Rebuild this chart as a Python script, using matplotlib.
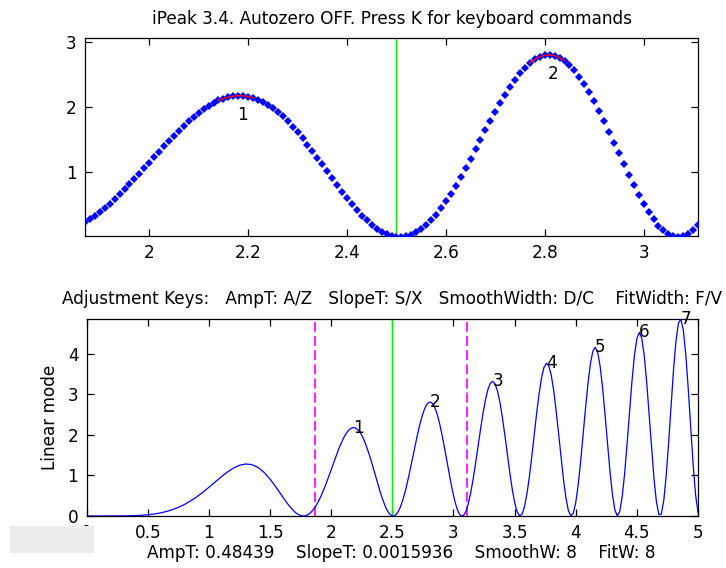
import numpy as np
import matplotlib
matplotlib.use("Agg")
import matplotlib.pyplot as plt
from matplotlib.patches import Rectangle

# ---------------- data ----------------
x_values = [
    0.00, 0.05, 0.10, 0.15, 0.20, 0.25, 0.30, 0.35, 0.40, 0.45,
    0.50, 0.55, 0.60, 0.65, 0.70, 0.75, 0.80, 0.85, 0.90, 0.95,
    1.00, 1.05, 1.10, 1.15, 1.20, 1.25, 1.30, 1.35, 1.40, 1.45,
    1.50, 1.55, 1.60, 1.65, 1.70, 1.725, 1.75, 1.775, 1.80, 1.825,
    1.85, 1.86,
    1.87, 1.88, 1.89, 1.90, 1.91, 1.92, 1.93, 1.94, 1.95, 1.96,
    1.97, 1.98, 1.99, 2.00, 2.01, 2.02, 2.03, 2.04, 2.05, 2.06,
    2.07, 2.08, 2.09, 2.10, 2.11, 2.12, 2.13, 2.14, 2.15, 2.16,
    2.17, 2.18, 2.19, 2.20, 2.21, 2.22, 2.23, 2.24, 2.25, 2.26,
    2.27, 2.28, 2.29, 2.30, 2.31, 2.32, 2.33, 2.34, 2.35, 2.36,
    2.37, 2.38, 2.39, 2.40, 2.41, 2.42, 2.43, 2.44, 2.45, 2.46,
    2.47, 2.48, 2.49, 2.50, 2.51, 2.52, 2.53, 2.54, 2.55, 2.56,
    2.57, 2.58, 2.59, 2.60, 2.61, 2.62, 2.63, 2.64, 2.65, 2.66,
    2.67, 2.68, 2.69, 2.70, 2.71, 2.72, 2.73, 2.74, 2.75, 2.76,
    2.77, 2.78, 2.79, 2.80, 2.81, 2.82, 2.83, 2.84, 2.85, 2.86,
    2.87, 2.88, 2.89, 2.90, 2.91, 2.92, 2.93, 2.94, 2.95, 2.96,
    2.97, 2.98, 2.99, 3.00, 3.01, 3.02, 3.03, 3.04, 3.05, 3.06,
    3.07, 3.08, 3.09, 3.10, 3.11,
    3.12, 3.14, 3.16, 3.18, 3.20, 3.22, 3.24, 3.26, 3.28, 3.30,
    3.32, 3.34, 3.36, 3.38, 3.40, 3.42, 3.44, 3.46, 3.48, 3.50,
    3.52, 3.54, 3.56, 3.58, 3.60, 3.62, 3.64, 3.66, 3.68, 3.70,
    3.72, 3.74, 3.76, 3.78, 3.80, 3.82, 3.84, 3.86, 3.88, 3.90,
    3.92, 3.94, 3.96, 3.98, 4.00, 4.02, 4.04, 4.06, 4.08, 4.10,
    4.12, 4.14, 4.16, 4.18, 4.20, 4.22, 4.24, 4.26, 4.28, 4.30,
    4.32, 4.34, 4.36, 4.38, 4.40, 4.42, 4.44, 4.46, 4.48, 4.50,
    4.52, 4.54, 4.56, 4.58, 4.60, 4.62, 4.64, 4.66, 4.68, 4.70,
    4.72, 4.74, 4.76, 4.78, 4.80, 4.82, 4.84, 4.86, 4.88, 4.90,
    4.92, 4.94, 4.96, 4.98, 5.00,
]
y_values = [
    0.000, 0.000, 0.000, 0.000, 0.000, 0.001, 0.002, 0.005, 0.010, 0.018,
    0.031, 0.049, 0.075, 0.109, 0.155, 0.213, 0.285, 0.372, 0.472, 0.585,
    0.708, 0.836, 0.963, 1.081, 1.180, 1.250, 1.281, 1.266, 1.198, 1.077,
    0.908, 0.704, 0.483, 0.273, 0.105, 0.047, 0.011, 0.000, 0.017, 0.064,
    0.142, 0.182,
    0.226, 0.275, 0.329, 0.387, 0.449, 0.516, 0.586, 0.658, 0.735, 0.813,
    0.894, 0.977, 1.061, 1.146, 1.230, 1.315, 1.399, 1.481, 1.562, 1.639,
    1.713, 1.784, 1.851, 1.914, 1.970, 2.021, 2.065, 2.103, 2.133, 2.155,
    2.170, 2.177, 2.175, 2.164, 2.145, 2.117, 2.081, 2.037, 1.985, 1.925,
    1.857, 1.782, 1.700, 1.613, 1.520, 1.424, 1.325, 1.221, 1.117, 1.011,
    0.906, 0.801, 0.699, 0.599, 0.504, 0.415, 0.331, 0.255, 0.188, 0.130,
    0.081, 0.044, 0.017, 0.003, 0.001, 0.011, 0.035, 0.071, 0.121, 0.183,
    0.257, 0.343, 0.440, 0.548, 0.665, 0.790, 0.922, 1.060, 1.203, 1.348,
    1.496, 1.642, 1.786, 1.929, 2.064, 2.193, 2.314, 2.423, 2.523, 2.609,
    2.681, 2.737, 2.777, 2.799, 2.806, 2.793, 2.761, 2.714, 2.648, 2.567,
    2.469, 2.356, 2.230, 2.091, 1.942, 1.785, 1.622, 1.455, 1.289, 1.123,
    0.959, 0.799, 0.650, 0.509, 0.383, 0.271, 0.177, 0.101, 0.045, 0.011,
    0.000, 0.012, 0.047, 0.105, 0.186,
    0.290, 0.557, 0.894, 1.281, 1.695, 2.110, 2.502, 2.837, 3.099, 3.263,
    3.318, 3.255, 3.078, 2.796, 2.427, 1.998, 1.540, 1.086, 0.673, 0.337,
    0.108, 0.004, 0.041, 0.219, 0.530, 0.951, 1.450, 1.990, 2.524, 3.009,
    3.398, 3.657, 3.760, 3.694, 3.462, 3.082, 2.586, 2.019, 1.438, 0.893,
    0.440, 0.132, 0.003, 0.069, 0.332, 0.768, 1.339, 1.991, 2.654, 3.262,
    3.751, 4.060, 4.157, 4.025, 3.676, 3.143, 2.485, 1.777, 1.098, 0.532,
    0.150, 0.001, 0.111, 0.473, 1.050, 1.777, 2.567, 3.323, 3.954, 4.370,
    4.520, 4.376, 3.954, 3.304, 2.509, 1.680, 0.921, 0.345, 0.037, 0.046,
    0.379, 0.997, 1.819, 2.732, 3.606, 4.315, 4.750, 4.844, 4.575, 3.981,
    3.144, 2.193, 1.272, 0.530, 0.088,
]

peak_numbers = [1, 2, 3, 4, 5, 6, 7]
peak_x = [2.177, 2.806, 3.318, 3.760, 4.157, 4.520, 4.855]
peak_y = [2.177, 2.806, 3.318, 3.760, 4.157, 4.520, 4.855]

window_center = 2.5
window_lo = 1.87
window_hi = 3.11

top_title = "iPeak 3.4. Autozero OFF. Press K for keyboard commands"
bottom_title = "Adjustment Keys:   AmpT: A/Z   SlopeT: S/X   SmoothWidth: D/C    FitWidth: F/V"
bottom_xlabel = "AmpT: 0.48439    SlopeT: 0.0015936    SmoothW: 8    FitW: 8"
bottom_ylabel = "Linear mode"

top_xticks = [2, 2.2, 2.4, 2.6, 2.8, 3]
top_xticklabels = ["2", "2.2", "2.4", "2.6", "2.8", "3"]
top_yticks = [1, 2, 3]
top_yticklabels = ["1", "2", "3"]
bottom_xticks = [0, 0.5, 1, 1.5, 2, 2.5, 3, 3.5, 4, 4.5, 5]
bottom_xticklabels = ["0", "0.5", "1", "1.5", "2", "2.5", "3", "3.5", "4", "4.5", "5"]
bottom_yticks = [0, 1, 2, 3, 4]
bottom_yticklabels = ["0", "1", "2", "3", "4"]

# ---------------- styling ----------------
plt.rcParams['font.family'] = ['DejaVu Sans']
FS = 12.2
BLUE = (0, 0, 1)
GREEN = (0, 0.95, 0)
MAGENTA = (1, 0, 1)

x = np.array(x_values)
y = np.array(y_values)

fig = plt.figure(figsize=(7.26, 5.68), dpi=100)
fig.patch.set_facecolor('white')

W, H = 726.0, 568.0
ax1 = fig.add_axes([85 / W, 1 - 235.7 / H, (698 - 85) / W, (235.7 - 37.7) / H])
ax2 = fig.add_axes([86.7 / W, 1 - 516 / H, (698 - 86.7) / W, (516 - 319.3) / H])


def style(ax):
    for s in ax.spines.values():
        s.set_linewidth(0.9)
        s.set_color('black')
    ax.tick_params(direction='in', length=5, width=0.9, top=True, right=True,
                   labelsize=FS, pad=6, colors='black')


# ---- top panel: zoomed window ----
m = (x >= window_lo - 1e-9) & (x <= window_hi + 1e-9)
xw, yw = x[m], y[m]
ax1.plot(xw, yw, linestyle='none', marker='D', markersize=3.9,
         color=BLUE, markeredgewidth=0, zorder=3)
for px, py in zip(peak_x, peak_y):
    if window_lo <= px <= window_hi:
        fm = (xw >= px - 0.04) & (xw <= px + 0.04)
        ax1.plot(xw[fm], yw[fm], color='red', linewidth=1.0, zorder=4)
for n, px, py in zip(peak_numbers, peak_x, peak_y):
    if window_lo <= px <= window_hi:
        ax1.text(px, py - 0.3, str(n), fontsize=FS, ha='left', va='center')
ax1.axvline(window_center, color=GREEN, linewidth=1.0, zorder=2)
ax1.set_xlim(window_lo, window_hi)
ax1.set_ylim(0.02, 3.07)
ax1.set_xticks(top_xticks)
ax1.set_xticklabels(top_xticklabels)
ax1.set_yticks(top_yticks)
ax1.set_yticklabels(top_yticklabels)
ax1.set_title(top_title, fontsize=FS, pad=10)
style(ax1)

# ---- bottom panel: full signal ----
ax2.plot(x, y, color=BLUE, linewidth=0.9, zorder=3)
ax2.axvline(window_center, color=GREEN, linewidth=1.0, zorder=2)
ax2.axvline(window_lo, color=MAGENTA, linewidth=1.2, dashes=(6, 2.5), zorder=2)
ax2.axvline(window_hi, color=MAGENTA, linewidth=1.2, dashes=(6, 2.5), zorder=2)
for n, px, py in zip(peak_numbers, peak_x, peak_y):
    ax2.text(px, py, str(n), fontsize=FS, ha='left', va='center', clip_on=False)
ax2.set_xlim(0, 5)
ax2.set_ylim(0, max(y_values))
ax2.set_xticks(bottom_xticks)
ax2.set_xticklabels(bottom_xticklabels)
ax2.set_yticks(bottom_yticks)
ax2.set_yticklabels(bottom_yticklabels)
ax2.set_title(bottom_title, fontsize=FS, pad=11)
ax2.set_xlabel(bottom_xlabel, fontsize=FS, labelpad=1)
ax2.xaxis.label.set_x(0.515)
ax2.set_ylabel(bottom_ylabel, fontsize=FS, labelpad=6.5)
style(ax2)

# grey control box in the lower-left corner
fig.patches.append(Rectangle((10 / W, 1 - 553 / H), 84 / W, 27 / H,
                             transform=fig.transFigure, facecolor='#ededed',
                             edgecolor='none', zorder=10))

fig.savefig('out.png', dpi=100, facecolor='white')
